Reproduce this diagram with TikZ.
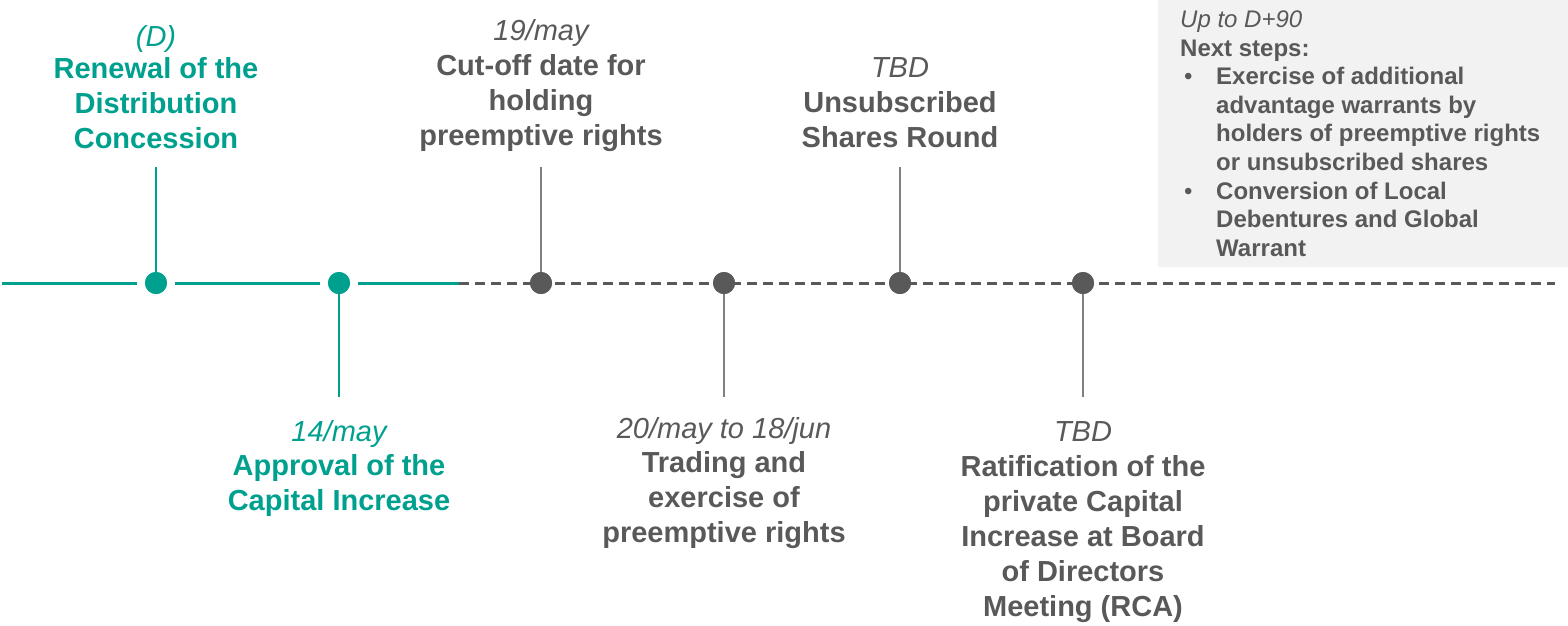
\documentclass[tikz,border=0pt]{standalone}
\usepackage{fontspec}
\setmainfont{Liberation Sans}
\definecolor{tealc}{HTML}{00A08E}
\definecolor{txtgray}{HTML}{595959}
\definecolor{linegray}{HTML}{808080}
\definecolor{boxgray}{HTML}{F2F2F2}
\newcommand\tllines[1]{\begin{tabular}[t]{@{}c@{}}#1\end{tabular}}
\newcommand\tldate[1]{{\mdseries\itshape #1}}
\begin{document}
\begin{tikzpicture}[x=1pt,y=-1pt,
  lbl/.style={inner sep=0pt, anchor=base, font=\fontsize{29}{35}\selectfont\bfseries},
  boxtxt/.style={inner sep=0pt, anchor=base west, text=txtgray, font=\fontsize{24}{28.6}\selectfont\bfseries},
  tdot/.style={circle, fill=tealc, minimum size=22pt, inner sep=0pt, outer sep=8pt},
  gdot/.style={circle, fill=txtgray, minimum size=22pt, inner sep=0pt, outer sep=0pt},
  tline/.style={draw=tealc, line width=3pt},
  dline/.style={draw=txtgray, line width=3pt, dash pattern=on 10pt off 6pt},
  tvline/.style={draw=tealc, line width=1.6pt},
  gvline/.style={draw=linegray, line width=1.6pt}]
\useasboundingbox (0,0) rectangle (1568,625);
% grey box
\fill[boxgray] (1158,0) rectangle (1568,267);
% dots positions
\node[tdot] (d1) at (156,283) {};
\node[tdot] (d2) at (339,283) {};
\coordinate (lstart) at (2,283);
\coordinate (tend) at (459,283);
\coordinate (lend) at (1555,283);
% main line
\draw[tline] (lstart) -- (d1);
\draw[tline] (d1) -- (d2);
\draw[tline] (d2) -- (tend);
\draw[dline] (tend) -- (lend);
% vertical ticks
\coordinate (v1) at (156,167);
\coordinate (v2) at (339,397);
\coordinate (v3) at (541,167);
\coordinate (v4) at (724,397);
\coordinate (v5) at (900,167);
\coordinate (v6) at (1083,397);
\draw[tvline] (v1) -- (d1.center);
\draw[tvline] (d2.center) -- (v2);
\node[gdot] (g1) at (541,283) {};
\node[gdot] (g2) at (724,283) {};
\node[gdot] (g3) at (900,283) {};
\node[gdot] (g4) at (1083,283) {};
\draw[gvline] (v3) -- (g1);
\draw[gvline] (g2) -- (v4);
\draw[gvline] (v5) -- (g3);
\draw[gvline] (g4) -- (v6);
% redraw dots on top
\fill[tealc] (d1) circle[radius=11pt];
\fill[tealc] (d2) circle[radius=11pt];
\fill[txtgray] (g1) circle[radius=11pt];
\fill[txtgray] (g2) circle[radius=11pt];
\fill[txtgray] (g3) circle[radius=11pt];
\fill[txtgray] (g4) circle[radius=11pt];
% labels
\node[lbl, text=tealc] (t1) at (156,46) {\tllines{\tldate{(D)}\\[-3pt]Renewal of the\\Distribution\\Concession}};
\node[lbl, text=tealc] (t2) at (339,441) {\tllines{\tldate{14/may}\\[-1pt]Approval of the\\Capital Increase}};
\node[lbl, text=txtgray] (t3) at (541,40) {\tllines{\tldate{19/may}\\Cut-off date for\\holding\\preemptive rights}};
\node[lbl, text=txtgray] (t4) at (724,438) {\tllines{\tldate{20/may to 18/jun}\\[-1pt]Trading and\\exercise of\\preemptive rights}};
\node[lbl, text=txtgray] (t5) at (900,77) {\tllines{\tldate{TBD}\\Unsubscribed\\Shares Round}};
\node[lbl, text=txtgray] (t6) at (1083,441) {\tllines{\tldate{TBD}\\Ratification of the\\private Capital\\Increase at Board\\of Directors\\Meeting (RCA)}};
% box text
\node[boxtxt] (bx) at (1180,27.5) {\begin{tabular}[t]{@{}p{36pt}@{}l@{}}
\multicolumn{2}{@{}l@{}}{\mdseries\itshape Up to D+90}\\
\multicolumn{2}{@{}l@{}}{Next steps:}\\
\hspace*{4pt}{\mdseries •} & Exercise of additional\\
 & advantage warrants by\\
 & holders of preemptive rights\\
 & or unsubscribed shares\\
\hspace*{4pt}{\mdseries •} & Conversion of Local\\
 & Debentures and Global\\
 & Warrant
\end{tabular}};
\end{tikzpicture}
\end{document}
